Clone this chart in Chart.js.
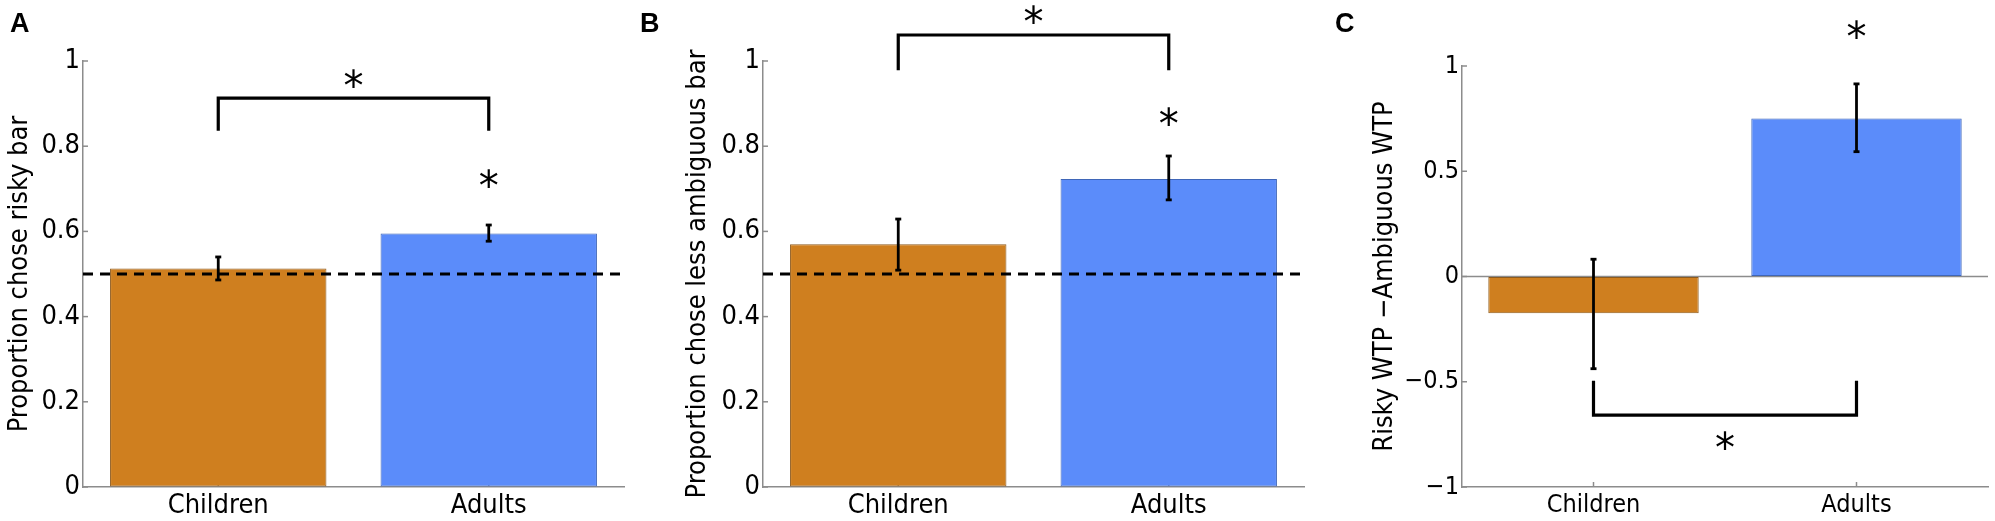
<!DOCTYPE html>
<html>
<head>
<meta charset="utf-8">
<script src="https://cdn.jsdelivr.net/npm/chart.js@4"></script>
<style>
	body { margin: 0; background: #fff; width: 1995px; height: 521px; overflow: hidden; position: relative; }
	canvas { position: absolute; top: 0; }
</style>
</head>
<body>
<canvas id="panelA" width="640" height="521" style="left:0px;width:640px;height:521px"></canvas>
<canvas id="panelB" width="690" height="521" style="left:630px;width:690px;height:521px"></canvas>
<canvas id="panelC" width="675" height="521" style="left:1320px;width:675px;height:521px"></canvas>
<script>
// data
const categories = ["Children", "Adults"];

const riskyMeans = [0.513, 0.595];
const riskyLow = [0.486, 0.577];
const riskyHigh = [0.540, 0.615];

const ambigMeans = [0.570, 0.723];
const ambigLow = [0.509, 0.674];
const ambigHigh = [0.629, 0.777];

const wtpMeans = [-0.174, 0.751];
const wtpLow = [-0.438, 0.593];
const wtpHigh = [0.082, 0.915];

const chanceLevel = 0.5;

const propTicks = [0, 0.2, 0.4, 0.6, 0.8, 1];
const propTickLabels = ["0", "0.2", "0.4", "0.6", "0.8", "1"];
const wtpTicks = [-1, -0.5, 0, 0.5, 1];
const wtpTickLabels = ["\u22121", "\u22120.5", "0", "0.5", "1"];

// significance brackets: bar level, leg end, star level
const bracketA = { y: 0.913, leg: 0.836, star: 0.958 };
const bracketB = { y: 1.061, leg: 0.978, star: 1.108 };
const bracketC = { y: -0.659, leg: -0.495, star: -0.778 };

// stars over single groups (null = none)
const starsA = [null, 0.725];
const starsB = [null, 0.869];
const starsC = [null, 1.174];

const fillColors = ["#CF7F1F", "#5B8CFA"];
const edgeColors = ["#8E5B1E", "#3F66B8"];
const axisGrey = "#8c8c8c";

// the figure's lettering is narrow; use condensed DejaVu when installed
let probe = document.createElement("canvas").getContext("2d");
probe.font = "30px monospace";
let monoW = probe.measureText("Children 0.8").width;
probe.font = "30px 'DejaVu Sans Condensed', monospace";
const hasCondensed = probe.measureText("Children 0.8").width !== monoW;
const textFamily = hasCondensed ? "'DejaVu Sans Condensed'" : "'DejaVu Sans'";
const sizeScale = hasCondensed ? 1 : 0.94;

function seg(ctx, x1, y1, x2, y2) {
	ctx.beginPath();
	ctx.moveTo(x1, y1);
	ctx.lineTo(x2, y2);
	ctx.stroke();
}

function star(ctx, x, y) {
	ctx.font = "40px 'DejaVu Sans'";
	ctx.fillStyle = "#000";
	ctx.textAlign = "center";
	ctx.textBaseline = "alphabetic";
	let m = ctx.measureText("*");
	ctx.fillText("*", x, y + (m.actualBoundingBoxAscent - m.actualBoundingBoxDescent) / 2);
}

const marks = {
	id: "marks",
	beforeDatasetsDraw(chart, args, o) {
		const { ctx, chartArea: ca, scales: { x, y } } = chart;
		ctx.save();
		ctx.strokeStyle = axisGrey;
		ctx.lineWidth = 1.5;
		y.ticks.forEach(t => {
			let py = y.getPixelForValue(t.value);
			seg(ctx, ca.left, py, ca.left + 5, py);
		});
		categories.forEach((c, i) => {
			let px = x.getPixelForValue(i);
			seg(ctx, px, ca.bottom, px, ca.bottom - 5);
		});
		if (o.zeroLine) {
			let py = y.getPixelForValue(0);
			seg(ctx, ca.left, py, ca.right, py);
		}
		ctx.restore();
	},
	afterDatasetsDraw(chart, args, o) {
		const { ctx, chartArea: ca, scales: { x, y } } = chart;
		ctx.save();
		ctx.strokeStyle = "#000";

		if (o.chance !== null) {
			let py = y.getPixelForValue(o.chance);
			ctx.lineWidth = 3;
			ctx.setLineDash([10, 7]);
			seg(ctx, ca.left, py, ca.right, py);
			ctx.setLineDash([]);
		}

		ctx.lineWidth = 2.8;
		categories.forEach((c, i) => {
			let px = x.getPixelForValue(i);
			let lo = y.getPixelForValue(o.low[i]);
			let hi = y.getPixelForValue(o.high[i]);
			seg(ctx, px, lo, px, hi);
			seg(ctx, px - 3, lo, px + 3, lo);
			seg(ctx, px - 3, hi, px + 3, hi);
		});

		let x0 = x.getPixelForValue(0);
		let x1 = x.getPixelForValue(1);
		let b = o.bracket;
		ctx.lineWidth = 3.2;
		ctx.lineJoin = "miter";
		ctx.beginPath();
		ctx.moveTo(x0, y.getPixelForValue(b.leg));
		ctx.lineTo(x0, y.getPixelForValue(b.y));
		ctx.lineTo(x1, y.getPixelForValue(b.y));
		ctx.lineTo(x1, y.getPixelForValue(b.leg));
		ctx.stroke();
		star(ctx, (x0 + x1) / 2, y.getPixelForValue(b.star));

		o.stars.forEach((s, i) => {
			if (s !== null) star(ctx, x.getPixelForValue(i), y.getPixelForValue(s));
		});

		// y axis title, squeezed to the length it has in the figure
		ctx.save();
		ctx.translate(o.titleX, (ca.top + ca.bottom) / 2);
		ctx.rotate(-Math.PI / 2);
		ctx.font = Math.round(27 * sizeScale) + "px " + textFamily;
		ctx.fillStyle = "#000";
		ctx.textAlign = "center";
		ctx.textBaseline = "middle";
		ctx.fillText(o.title, 0, 0, o.titleLen);
		ctx.restore();

		ctx.font = "bold 27px 'Liberation Sans'";
		ctx.fillStyle = "#000";
		ctx.textAlign = "left";
		ctx.textBaseline = "alphabetic";
		ctx.fillText(o.letter, o.letterX, 32);
		ctx.restore();
	}
};

function makePanel(id, p) {
	let tickSize = Math.round(p.tickSize * sizeScale);
	return new Chart(document.getElementById(id), {
		type: "bar",
		data: {
			labels: categories,
			datasets: [{
				data: p.means,
				backgroundColor: fillColors,
				borderColor: edgeColors,
				borderWidth: 1,
				borderSkipped: false,
				categoryPercentage: 1,
				barPercentage: 0.8
			}]
		},
		options: {
			responsive: false,
			devicePixelRatio: 1,
			animation: false,
			events: [],
			layout: { padding: { left: p.padLeft, right: p.padRight, top: p.padTop, bottom: 0 } },
			plugins: {
				legend: { display: false },
				tooltip: { enabled: false },
				marks: {
					chance: p.chance,
					low: p.low,
					high: p.high,
					bracket: p.bracket,
					stars: p.stars,
					zeroLine: p.zeroLine,
					letter: p.letter,
					letterX: p.letterX,
					title: p.title,
					titleX: p.titleX,
					titleLen: p.titleLen
				}
			},
			scales: {
				x: {
					grid: { display: true, drawOnChartArea: false, drawTicks: false },
					border: { display: true, color: axisGrey, width: 1.5 },
					ticks: {
						color: "#000",
						padding: 3,
						maxRotation: 0,
						autoSkip: false,
						font: { family: textFamily, size: tickSize }
					},
					afterFit: scale => { scale.height = 34; }
				},
				y: {
					min: p.ticks[0],
					max: p.ticks[p.ticks.length - 1],
					afterBuildTicks: scale => { scale.ticks = p.ticks.map(v => ({ value: v })); },
					grid: { display: true, drawOnChartArea: false, drawTicks: false },
					border: { display: true, color: axisGrey, width: 1.5 },
					ticks: {
						color: "#000",
						padding: 3,
						font: { family: textFamily, size: tickSize },
						callback: v => p.tickLabels[p.ticks.indexOf(v)]
					},
					afterFit: scale => { scale.width = p.axisWidth; }
				}
			}
		},
		plugins: [marks]
	});
}

makePanel("panelA", {
	means: riskyMeans, low: riskyLow, high: riskyHigh,
	ticks: propTicks, tickLabels: propTickLabels,
	title: "Proportion chose risky bar", titleX: 20, titleLen: 318,
	chance: chanceLevel, bracket: bracketA, stars: starsA, zeroLine: false,
	letter: "A", letterX: 10,
	padLeft: 0, padRight: 16, padTop: 61, axisWidth: 83, tickSize: 26.5
});

makePanel("panelB", {
	means: ambigMeans, low: ambigLow, high: ambigHigh,
	ticks: propTicks, tickLabels: propTickLabels,
	title: "Proportion chose less ambiguous bar", titleX: 68, titleLen: 455,
	chance: chanceLevel, bracket: bracketB, stars: starsB, zeroLine: false,
	letter: "B", letterX: 10,
	padLeft: 50, padRight: 16, padTop: 61, axisWidth: 83, tickSize: 26.5
});

makePanel("panelC", {
	means: wtpMeans, low: wtpLow, high: wtpHigh,
	ticks: wtpTicks, tickLabels: wtpTickLabels,
	title: "Risky WTP \u2212Ambiguous WTP", titleX: 65, titleLen: 363,
	chance: null, bracket: bracketC, stars: starsC, zeroLine: true,
	letter: "C", letterX: 15,
	padLeft: 46, padRight: 7, padTop: 66, axisWidth: 96, tickSize: 25
});
</script>
</body>
</html>
